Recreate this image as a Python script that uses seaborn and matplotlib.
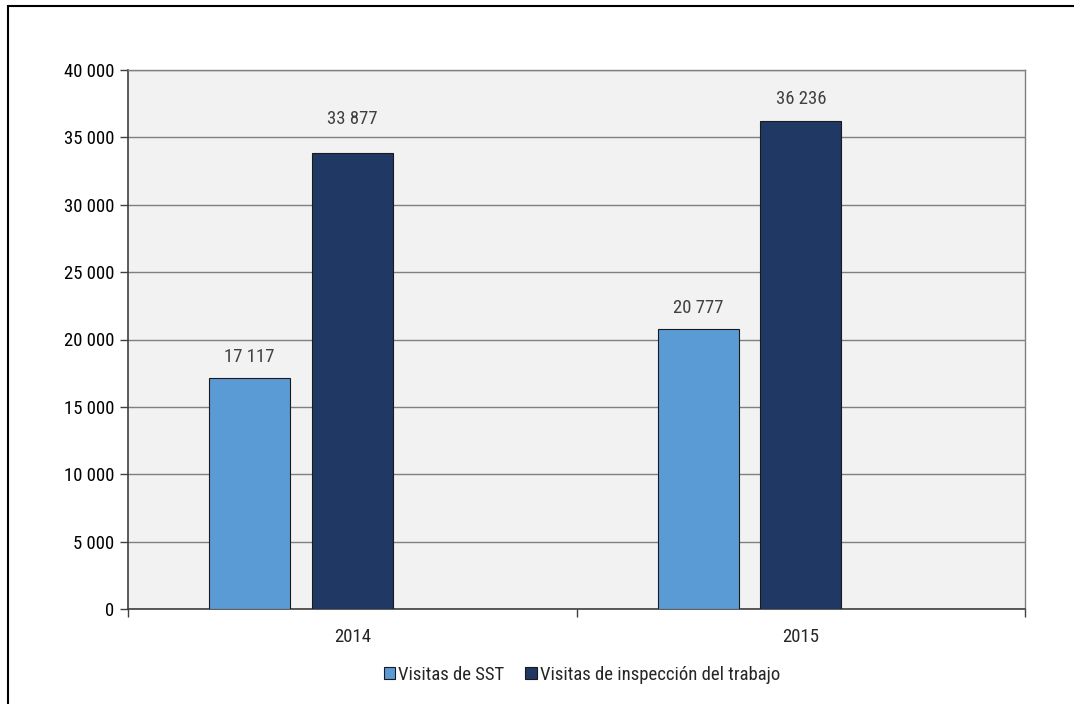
import matplotlib
matplotlib.use("Agg")
import matplotlib.pyplot as plt
import matplotlib.ticker as mticker
from matplotlib.patches import Rectangle
import seaborn as sns
import pandas as pd

years = ["2014", "2015"]
series_names = ["Visitas de SST", "Visitas de inspección del trabajo"]
sst = [17117, 20777]
inspeccion = [33877, 36236]
yticks = [0, 5000, 10000, 15000, 20000, 25000, 30000, 35000, 40000]
colors = ["#5b9bd5", "#203864"]

sns.set_theme(style="white")
plt.rcParams["font.family"] = ["Roboto Condensed", "Liberation Sans", "DejaVu Sans"]

FS = 13.5
# label padding (points) per series / per bar, as in the original layout
label_pad = [[9, 9], [18, 9]]

df = pd.DataFrame({
    "year": years * 2,
    "serie": [series_names[0]] * 2 + [series_names[1]] * 2,
    "valor": sst + inspeccion,
})

fig = plt.figure(figsize=(10.74, 7.04), dpi=100)
ax = fig.add_axes([128 / 1074, 1 - 609 / 704, (1025 - 128) / 1074, (609 - 70) / 704])
ax.set_facecolor("#f2f2f2")

hue_order = series_names + [" "]
palette = {series_names[0]: colors[0], series_names[1]: colors[1], " ": "#ffffff"}
sns.barplot(data=df, x="year", y="valor", hue="serie", hue_order=hue_order,
            palette=palette, width=0.686, gap=0.21, dodge=True, ax=ax,
            edgecolor="#1a1a1a", linewidth=0.8, saturation=1, legend=False,
            errorbar=None, zorder=3)

ax.set_ylim(0, 40000)
ax.set_xlim(-0.5, 1.5)
ax.set_yticks(yticks)
ax.yaxis.set_major_formatter(mticker.FuncFormatter(lambda v, p: f"{int(v):,}".replace(",", " ")))
ax.grid(axis="y", color="#7f7f7f", linewidth=1, zorder=0)
ax.set_axisbelow(True)
ax.set_xlabel("")
ax.set_ylabel("")

fmt = lambda v: f"{int(v):,}".replace(",", " ")
for si, c in enumerate(ax.containers[:2]):
    for bi, bar in enumerate(c.patches):
        h = bar.get_height()
        ax.annotate(fmt(h), (bar.get_x() + bar.get_width() / 2, h),
                    xytext=(0, label_pad[si][bi]), textcoords="offset points",
                    ha="center", va="bottom", fontsize=FS, color="#404040")

for s in ["left", "bottom"]:
    ax.spines[s].set_color("#404040")
    ax.spines[s].set_linewidth(1.2)
for s in ["top", "right"]:
    ax.spines[s].set_color("#808080")
    ax.spines[s].set_linewidth(1.0)

ax.tick_params(axis="y", which="major", length=6, width=1, color="#404040",
               labelsize=FS, labelcolor="#000000", pad=4, left=True)
ax.tick_params(axis="x", which="major", length=0, labelsize=FS, pad=14)
ax.set_xticks([-0.5, 0.5, 1.5], minor=True)
ax.tick_params(axis="x", which="minor", length=6, width=1, color="#404040", bottom=True)

handles = [Rectangle((0, 0), 1, 1, facecolor=colors[i], edgecolor="#1a1a1a", linewidth=0.8)
           for i in range(2)]
fig.legend(handles, series_names, loc="center", bbox_to_anchor=(582 / 1074, 1 - 675 / 704),
           ncol=2, frameon=False, fontsize=FS, handlelength=0.6, handleheight=0.6,
           handletextpad=0.2, columnspacing=1.1)

fig.add_artist(Rectangle((8 / 1074, -0.2), 2, 1.2 - 6 / 704, fill=False,
                         edgecolor="#000000", linewidth=1.5, transform=fig.transFigure))

fig.savefig("out.png", dpi=100, facecolor="white")
